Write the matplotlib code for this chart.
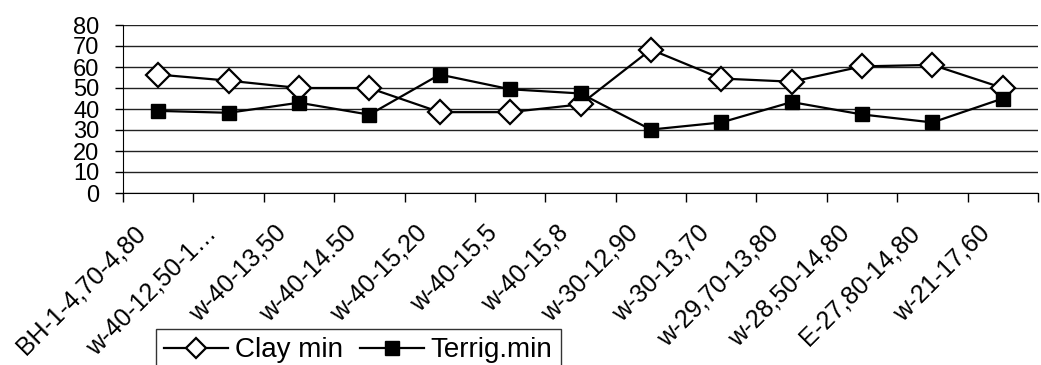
import matplotlib.pyplot as plt
import matplotlib.transforms as mtransforms
import numpy as np

samples = ['BH-1-4,70-4,80', 'w-40-12,50-1…', 'w-40-13,50', 'w-40-14.50',
           'w-40-15,20', 'w-40-15,5', 'w-40-15,8', 'w-30-12,90', 'w-30-13,70',
           'w-29,70-13,80', 'w-28,50-14,80', 'E-27,80-14,80', 'w-21-17,60']
clay_min = [56.4, 53.5, 50, 50, 38.5, 38.5, 42.2, 68.3, 54.5, 53, 60.3, 61, 50]
terrig_min = [39.1, 38.2, 43, 37.3, 56.4, 49.4, 47.4, 30.2, 33.6, 43.3, 37.4, 33.6, 45]
y_ticks = [0, 10, 20, 30, 40, 50, 60, 70, 80]

plt.rcParams['font.family'] = ['Liberation Sans', 'DejaVu Sans']

fig = plt.figure(figsize=(10.41, 3.65), dpi=100)
ax = fig.add_axes([123 / 1041, 172 / 365, 915 / 1041, 168 / 365])

x = np.arange(len(samples)) + 0.5
ax.plot(x, clay_min, color='black', lw=1.6, marker='D', ms=12.5,
        mfc='white', mec='black', mew=1.6, label='Clay min', zorder=3)
ax.plot(x, terrig_min, color='black', lw=1.6, marker='s', ms=9.5,
        mfc='black', mec='black', label='Terrig.min', zorder=3)

ax.set_xlim(0, len(samples))
ax.set_ylim(0, 80)
ax.set_yticks(y_ticks)
ax.tick_params(axis='y', labelsize=17, length=6, width=1, pad=11, color='black')
ax.yaxis.grid(True, color='#222222', lw=1)
ax.set_axisbelow(True)

ax.set_xticks(np.arange(len(samples) + 1))
ax.set_xticklabels([])
ax.tick_params(axis='x', which='major', length=6.5, width=1, direction='out')
ax.set_xticks(x, minor=True)
ax.set_xticklabels(samples, minor=True, rotation=45, ha='right', fontsize=18)
ax.tick_params(axis='x', which='minor', length=0, pad=20)
# nudge the rotated labels a little to the left
shift = mtransforms.ScaledTranslation(-8 / 100, 0, fig.dpi_scale_trans)
for lab in ax.get_xticklabels(minor=True):
    lab.set_transform(lab.get_transform() + shift)

for side in ['top', 'right']:
    ax.spines[side].set_visible(False)
ax.spines['left'].set_color('black')
ax.spines['bottom'].set_color('black')

leg = fig.legend(loc='upper left', bbox_to_anchor=(156 / 1041, 1 - 329 / 365),
                 ncol=2, fontsize=20, frameon=True, fancybox=False,
                 edgecolor='black', handlelength=2.3, handletextpad=0.25,
                 columnspacing=0.6, borderpad=0.3, borderaxespad=0)
leg.get_frame().set_linewidth(1)
for h in leg.legend_handles:
    h.set_markersize(10)

fig.savefig('out.png', dpi=100)
